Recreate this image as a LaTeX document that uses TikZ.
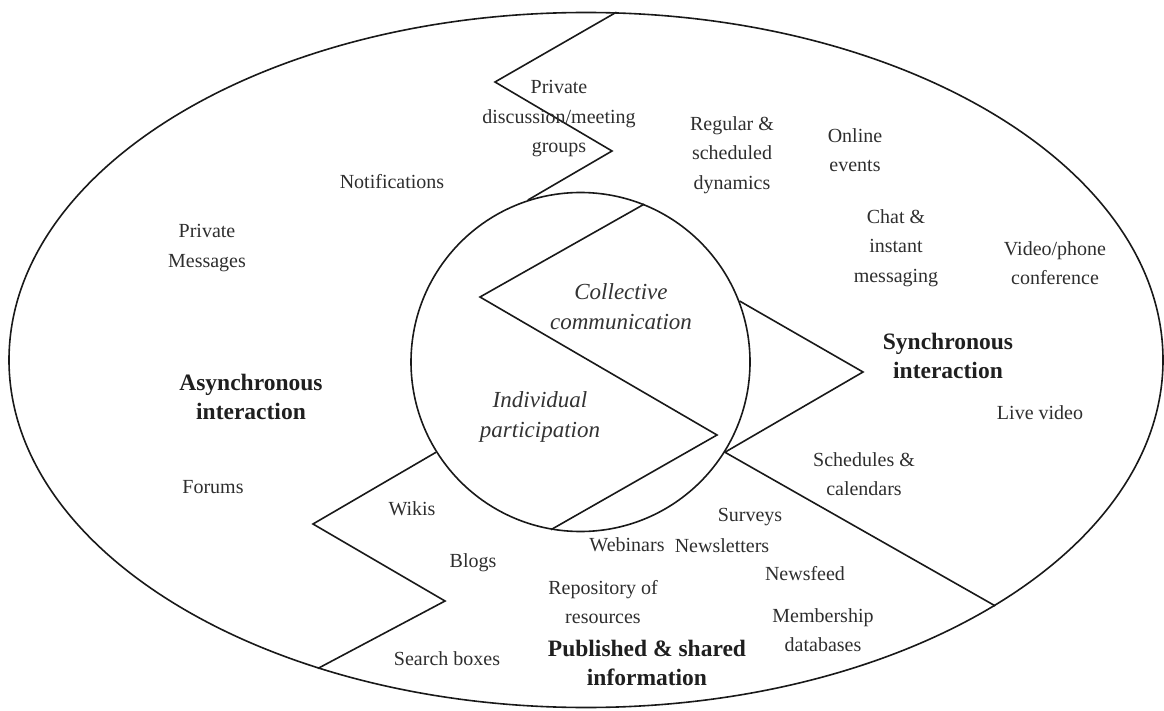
\documentclass[tikz,border=0pt]{standalone}
\usepackage{fontspec}
\setmainfont{Liberation Serif}
\usetikzlibrary{shapes.geometric}
\begin{document}
\begin{tikzpicture}[x=1pt,y=-1pt,
  outline/.style={draw=black!90, line width=1.6pt},
  split/.style={draw=black!90, line width=1.6pt, line join=miter},
  item/.style={align=center, inner sep=0pt, text=black!82, font=\fontsize{20}{29.5}\selectfont},
  realm/.style={align=center, inner sep=0pt, text=black!88, font=\bfseries\fontsize{23.5}{29}\selectfont},
  core/.style={align=center, inner sep=0pt, text=black!80, font=\itshape\fontsize{23}{30}\selectfont}]
\useasboundingbox (0,0) rectangle (1164,711);

% outer field and inner core
\node[outline, ellipse, minimum width=1154pt, minimum height=695pt, inner sep=0pt] (world) at (586,360) {};
\node[outline, circle, minimum size=339pt, inner sep=0pt] (hub) at (580.5,362) {};

% zigzag dividers between the regions
\coordinate (t1) at (495,82);
\coordinate (t2) at (612,151);
\draw[split] (world.85.6) -- (t1) -- (t2) -- (hub.108.1);

\coordinate (c1) at (480,297);
\coordinate (c2) at (717,435);
\draw[split] (hub.68.5) -- (c1) -- (c2) -- (hub.260.7);

\coordinate (r1) at (863,372);
\draw[split] (hub.21.2) -- (r1) -- (hub.-32.6) -- (world.-31.7);

\coordinate (b1) at (313,524);
\coordinate (b2) at (445,601);
\draw[split] (hub.212) -- (b1) -- (b2) -- (world.229.7);

% core labels
\node[core] (collective) at (621,307) {Collective\\communication};
\node[core] (individual) at (540,417) {Individual\\participation};

% region titles
\node[realm] (async) at (251,397) {Asynchronous\\interaction};
\node[realm] (sync) at (948,356) {Synchronous\\interaction};
\node[realm] (pub) at (647,663) {Published \& shared\\information};

% tools
\node[item] (privgroups) at (559,119) {Private\\discussion/meeting\\groups};
\node[item] (regular) at (732,155) {Regular \&\\scheduled\\dynamics};
\node[item] (online) at (855,150) {Online\\events};
\node[item] (chat) at (896,248) {Chat \&\\instant\\messaging};
\node[item] (video) at (1055,263) {Video/phone\\conference};
\node[item] (live) at (1040,413) {Live video};
\node[item] (sched) at (864,474) {Schedules \&\\calendars};
\node[item] (surveys) at (750,517) {Surveys};
\node[item] (newsl) at (722,546) {Newsletters};
\node[item] (webinars) at (627,545) {Webinars};
\node[item] (newsfeed) at (805,574) {Newsfeed};
\node[item] (member) at (823,630) {Membership\\databases};
\node[item] (repo) at (603,602) {Repository of\\resources};
\node[item] (search) at (447,659) {Search boxes};
\node[item] (blogs) at (473,563) {Blogs};
\node[item] (wikis) at (412,509) {Wikis};
\node[item] (forums) at (213,487) {Forums};
\node[item] (privmsg) at (207,248) {Private\\Messages};
\node[item] (notif) at (392,182) {Notifications};
\end{tikzpicture}
\end{document}
